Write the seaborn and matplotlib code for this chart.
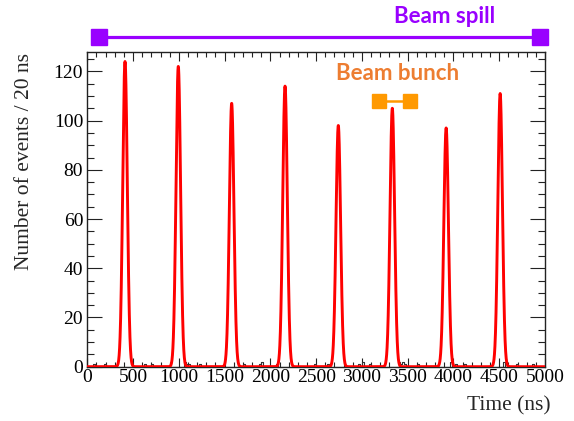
import numpy as np
import pandas as pd
import matplotlib
matplotlib.use("Agg")
import matplotlib.pyplot as plt
from matplotlib.ticker import MultipleLocator
from matplotlib.transforms import blended_transform_factory
import seaborn as sns

# Fitted bunch peaks: centre (ns), amplitude (events / 20 ns), width sigma (ns)
peak_centers = [412, 994, 1577, 2160, 2742, 3332, 3920, 4510]
peak_heights = [124, 122, 107, 114, 98, 105, 97, 111]
peak_sigma = 25

# Sparse background hits between bunches: bin start (ns) and counts
bkg_bins = [60, 180, 620, 700, 1060, 1080, 1100, 1220, 1700, 1880, 1900, 2060,
            2480, 2620, 2960, 3000, 3080, 3400, 3420, 3440, 3460, 3600, 3960,
            4020, 4120, 4540, 4680, 4860]
bkg_counts = [1, 1, 1, 1, 2, 1, 1, 1, 1, 1, 2, 1,
              1, 1, 1, 2, 1, 2, 1, 2, 1, 1, 2,
              1, 1, 2, 1, 1]

bin_width = 20
t_min, t_max = 0, 5000

# Beam structure markers (ns)
spill_start, spill_end = 128, 4943
bunch_start, bunch_end = 3192, 3520
bunch_marker_level = 108

sns.set_theme(style="ticks")
plt.rcParams["font.family"] = ["Liberation Serif", "DejaVu Serif"]
plt.rcParams["axes.edgecolor"] = "#222222"

fig = plt.figure(figsize=(5.74, 4.21), dpi=100)
ax = fig.add_axes([87.3 / 574, 1 - 366.7 / 421, (545 - 87.3) / 574, (366.7 - 51.7) / 421])

# Background histogram (step style)
hist_df = pd.DataFrame({"t": np.array(bkg_bins, dtype=float) + bin_width / 2,
                        "n": np.array(bkg_counts, dtype=float)})
sns.histplot(data=hist_df, x="t", weights="n", binwidth=bin_width, binrange=(t_min, t_max),
             element="step", fill=False, color="#333333", linewidth=0.8, ax=ax)

# Fit: sum of Gaussian bunches
t = np.linspace(t_min, t_max, 5001)
fit = np.zeros_like(t)
for c, a in zip(peak_centers, peak_heights):
    fit += a * np.exp(-0.5 * ((t - c) / peak_sigma) ** 2)
sns.lineplot(x=t, y=fit, color="#ff0000", linewidth=2.1, ax=ax, zorder=3)

ax.set_xlim(t_min, t_max)
ax.set_ylim(0, 128)
ax.xaxis.set_major_locator(MultipleLocator(500))
ax.xaxis.set_minor_locator(MultipleLocator(100))
ax.yaxis.set_major_locator(MultipleLocator(20))
ax.yaxis.set_minor_locator(MultipleLocator(5))
ax.tick_params(axis="both", which="both", direction="in", top=True, right=True,
               colors="#222222", labelcolor="black", labelsize=14)
ax.tick_params(axis="x", which="major", length=6.8, width=0.8, pad=2)
ax.tick_params(axis="x", which="minor", length=3.4, width=0.8)
ax.tick_params(axis="y", which="major", length=10.5, width=0.8, pad=3)
ax.tick_params(axis="y", which="minor", length=5.3, width=0.8)
for s in ax.spines.values():
    s.set_linewidth(1.0)

ax.set_xlabel("")
ax.set_ylabel("")
fig.text(551 / 574, 1 - 406 / 421, "Time (ns)", ha="right", va="center", fontsize=15.5)
fig.text(25 / 574, 1 - 162 / 421, "Number of events / 20 ns", ha="center", va="center",
         rotation=90, fontsize=15.5)

# Beam spill bar above the frame
trans = blended_transform_factory(ax.transData, fig.transFigure)
ax.plot([spill_start, spill_end], [1 - 37 / 421] * 2, transform=trans, clip_on=False,
        color="#9900ff", linewidth=2.3, marker="s", markersize=12, zorder=5)
fig.text(445 / 574, 1 - 23 / 421, "Beam spill", ha="center", va="baseline",
         fontsize=16, fontweight="bold", color="#9900ff", family=["Lato", "DejaVu Sans"])

# Beam bunch bar
ax.plot([bunch_start, bunch_end], [bunch_marker_level] * 2, clip_on=False,
        color="#ff9900", linewidth=1.8, marker="s", markersize=9.5, zorder=5)
fig.text(398 / 574, 1 - 80 / 421, "Beam bunch", ha="center", va="baseline",
         fontsize=16, fontweight="bold", color="#ed7d31", family=["Lato", "DejaVu Sans"])

fig.savefig("out.png", dpi=100)
